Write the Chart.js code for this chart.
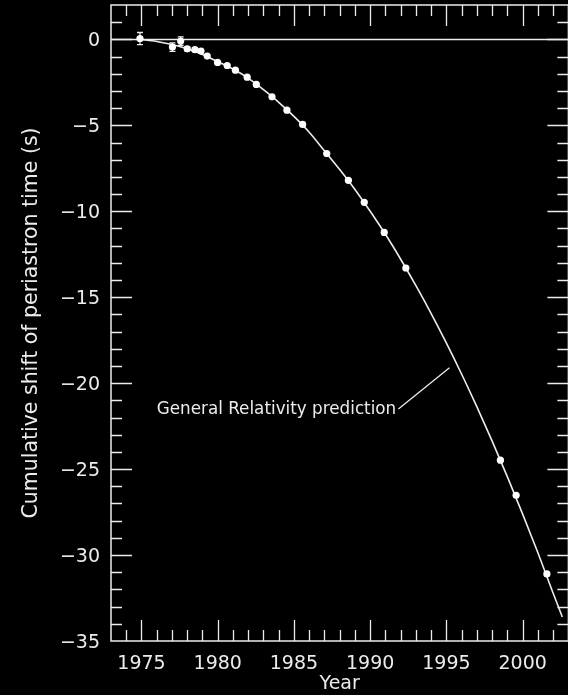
<!DOCTYPE html>
<html>
<head>
<meta charset="utf-8">
<script src="https://cdn.jsdelivr.net/npm/chart.js@4/dist/chart.umd.min.js"></script>
<style>
  html, body { margin: 0; background: #000; overflow: hidden; }
  #wrap { width: 572px; height: 695px; }
</style>
</head>
<body>
<div id="wrap"><canvas id="chart" width="572" height="695"></canvas></div>
<script>
const obsYear  = [1974.9, 1977.03, 1977.57, 1978.0, 1978.5, 1978.9, 1979.31, 1979.99, 1980.62, 1981.16,
                  1981.93, 1982.53, 1983.56, 1984.54, 1985.57, 1987.15, 1988.57, 1989.61, 1990.92, 1992.34,
                  1998.54, 1999.57, 2001.59];
const obsShift = [0.05, -0.45, -0.1, -0.55, -0.6, -0.68, -0.97, -1.34, -1.52, -1.79,
                  -2.2, -2.62, -3.34, -4.12, -4.95, -6.64, -8.2, -9.48, -11.23, -13.3,
                  -24.48, -26.52, -31.1];
const obsErr   = [0.35, 0.25, 0.25, 0.12, 0.1, 0.1, 0.08, 0.08, 0.06, 0.06,
                  0.05, 0.05, 0.05, 0.05, 0.05, 0.05, 0.05, 0.05, 0.05, 0.05,
                  0.05, 0.05, 0.05];

// general relativity prediction curve
const grYear  = [1974.9, 1976, 1977, 1978, 1979, 1980, 1981, 1982, 1983, 1984, 1985, 1986, 1987, 1988,
                 1989, 1990, 1991, 1992, 1993, 1994, 1995, 1996, 1997, 1998, 1999, 2000, 2001, 2002, 2002.6];
const grShift = [0, -0.12, -0.3, -0.55, -0.88, -1.3, -1.72, -2.25, -2.93, -3.66, -4.48, -5.4, -6.48, -7.57,
                 -8.73, -10.0, -11.34, -12.79, -14.33, -15.95, -17.67, -19.48, -21.38, -23.37, -25.45, -27.62,
                 -29.87, -32.22, -33.6];

const xTicks = [1975, 1980, 1985, 1990, 1995, 2000];
const yTicks = [0, -5, -10, -15, -20, -25, -30, -35];
const xRange = [1973, 2003];
const yRange = [-35, 2];

const grLabel = "General Relativity prediction";
const grLabelAt = [1976.0, -21.55];
const grLeader = [[1991.85, -21.5], [1995.2, -19.1]];

const FG = "#ececec";
const FONT = "DejaVu Sans";

// box, inward ticks on every side, error bars and the label
const framePlugin = {
  id: "frame",
  beforeDatasetsDraw(chart) {
    const { ctx, scales: { x, y } } = chart;
    ctx.save();
    ctx.strokeStyle = FG;
    ctx.lineWidth = 1.3;
    obsYear.forEach((yr, i) => {
      const px = x.getPixelForValue(yr);
      const top = y.getPixelForValue(obsShift[i] + obsErr[i]);
      const bot = y.getPixelForValue(obsShift[i] - obsErr[i]);
      ctx.beginPath();
      ctx.moveTo(px, top); ctx.lineTo(px, bot);
      ctx.moveTo(px - 3, top); ctx.lineTo(px + 3, top);
      ctx.moveTo(px - 3, bot); ctx.lineTo(px + 3, bot);
      ctx.stroke();
    });
    ctx.restore();
  },
  afterDraw(chart) {
    const { ctx, chartArea: a, scales: { x, y } } = chart;
    ctx.save();
    ctx.strokeStyle = FG;
    ctx.lineWidth = 1.5;
    ctx.strokeRect(a.left, a.top, a.right - a.left, a.bottom - a.top);

    ctx.lineWidth = 1.3;
    ctx.beginPath();
    for (let v = xRange[0] + 1; v < xRange[1]; v++) {
      const px = Math.round(x.getPixelForValue(v)) + 0.5;
      const len = v % 5 === 0 ? 21 : 11;
      ctx.moveTo(px, a.bottom); ctx.lineTo(px, a.bottom - len);
      ctx.moveTo(px, a.top); ctx.lineTo(px, a.top + len);
    }
    for (let v = yRange[0] + 1; v < yRange[1]; v++) {
      const py = Math.round(y.getPixelForValue(v)) + 0.5;
      const len = v % 5 === 0 ? 21 : 11;
      ctx.moveTo(a.left, py); ctx.lineTo(a.left + len, py);
      ctx.moveTo(a.right, py); ctx.lineTo(a.right - len, py);
    }
    ctx.stroke();

    // label + leader line
    ctx.beginPath();
    ctx.moveTo(x.getPixelForValue(grLeader[0][0]), y.getPixelForValue(grLeader[0][1]));
    ctx.lineTo(x.getPixelForValue(grLeader[1][0]), y.getPixelForValue(grLeader[1][1]));
    ctx.stroke();
    ctx.fillStyle = FG;
    ctx.font = `16.8px "${FONT}"`;
    ctx.textBaseline = "middle";
    ctx.textAlign = "left";
    ctx.fillText(grLabel, x.getPixelForValue(grLabelAt[0]), y.getPixelForValue(grLabelAt[1]));
    ctx.restore();
  },
};

const minus = (v) => String(v).replace("-", "\u2212");

new Chart(document.getElementById("chart"), {
  type: "scatter",
  data: {
    datasets: [
      {
        label: "Observed",
        data: obsYear.map((yr, i) => ({ x: yr, y: obsShift[i] })),
        pointRadius: 3.6,
        pointHoverRadius: 3.6,
        pointBackgroundColor: "#fff",
        pointBorderWidth: 0,
        order: 0,
      },
      {
        type: "line",
        label: "General Relativity prediction",
        data: grYear.map((yr, i) => ({ x: yr, y: grShift[i] })),
        borderColor: FG,
        borderWidth: 1.6,
        pointRadius: 0,
        cubicInterpolationMode: "monotone",
        fill: false,
        order: 1,
      },
      {
        type: "line",
        label: "zero",
        data: [{ x: xRange[0], y: 0 }, { x: xRange[1], y: 0 }],
        borderColor: FG,
        borderWidth: 1.5,
        pointRadius: 0,
        order: 2,
      },
    ],
  },
  options: {
    responsive: false,
    animation: false,
    devicePixelRatio: 1,
    layout: { padding: { top: 5, right: 2, left: 0, bottom: 0 } },
    plugins: { legend: { display: false }, tooltip: { enabled: false } },
    scales: {
      x: {
        type: "linear",
        min: xRange[0],
        max: xRange[1],
        afterBuildTicks: (s) => { s.ticks = xTicks.map((v) => ({ value: v })); },
        afterFit: (s) => { s.height = 54; s.paddingLeft = 0; s.paddingRight = 0; },
        grid: { display: false, drawTicks: false },
        border: { display: false },
        ticks: { color: FG, font: { family: FONT, size: 19 }, padding: 12, maxRotation: 0, callback: (v) => String(v) },
        title: { display: true, text: "Year", color: FG, font: { family: FONT, size: 19, lineHeight: 1 }, padding: { top: 0, bottom: 1.5 } },
      },
      y: {
        type: "linear",
        min: yRange[0],
        max: yRange[1],
        afterBuildTicks: (s) => { s.ticks = yTicks.map((v) => ({ value: v })); },
        afterFit: (s) => { s.width = 111; s.paddingTop = 0; s.paddingBottom = 0; },
        grid: { display: false, drawTicks: false },
        border: { display: false },
        ticks: { color: FG, font: { family: FONT, size: 19 }, padding: 11, labelOffset: 2, callback: (v) => minus(v) },
        title: { display: true, text: "Cumulative shift of periastron time (s)", color: FG, font: { family: FONT, size: 20.5, lineHeight: 1 }, padding: { top: 21.5, bottom: 0 } },
      },
    },
  },
  plugins: [framePlugin],
});
</script>
</body>
</html>
